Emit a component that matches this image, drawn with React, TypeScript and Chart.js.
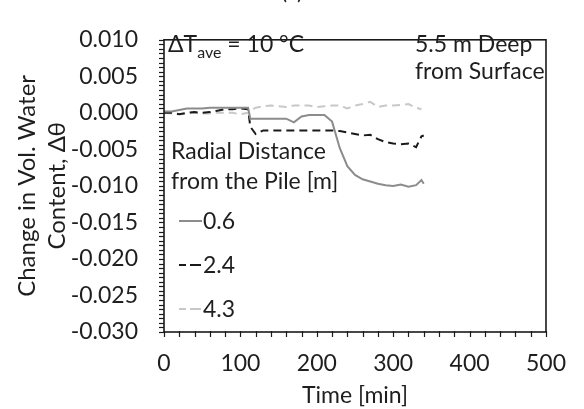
import React, { useEffect, useRef } from 'react';
import { Chart, registerables } from 'chart.js';

Chart.register(...registerables);

// Time [min]
const times = [0, 10, 20, 30, 40, 50, 60, 70, 80, 90, 100, 110, 113, 120, 130, 140, 150, 160, 170, 180, 190, 200, 210, 220, 230, 240, 250, 260, 270, 280, 290, 300, 310, 320, 330, 337, 340];

// Change in volumetric water content, radial distance 0.6 m
const s06 = [0.0002, 0.0002, 0.0004, 0.0006, 0.0006, 0.0006, 0.0007, 0.0007, 0.0007, 0.0007, 0.0007, 0.0007, -0.0008, -0.0008, -0.0008, -0.0008, -0.0008, -0.0008, -0.0013, -0.0005, -0.0003, -0.0003, -0.0003, -0.0012, -0.0048, -0.0073, -0.0085, -0.0091, -0.0094, -0.0097, -0.0099, -0.0100, -0.0098, -0.0101, -0.0099, -0.0092, -0.0097];
// 2.4 m
const s24 = [0.0, 0.0, -0.0002, 0.0, 0.0001, 0.0, 0.0001, 0.0003, 0.0005, 0.0005, 0.0006, 0.0005, -0.0019, -0.0029, -0.0024, -0.0024, -0.0024, -0.0024, -0.0024, -0.0024, -0.0024, -0.0024, -0.0024, -0.0024, -0.0025, -0.0027, -0.0029, -0.0031, -0.0030, -0.0036, -0.0040, -0.0042, -0.0043, -0.0042, -0.0047, -0.0032, -0.0031];
// 4.3 m
const s43 = [0.0, -0.0001, -0.0002, -0.0001, 0.0, -0.0001, -0.0001, 0.0, 0.0, 0.0, -0.0002, 0.0, 0.0003, 0.0007, 0.0009, 0.0010, 0.0009, 0.0008, 0.0010, 0.0010, 0.0010, 0.0008, 0.0009, 0.0010, 0.0010, 0.0006, 0.0010, 0.0012, 0.0015, 0.0008, 0.0010, 0.0010, 0.0011, 0.0012, 0.0007, 0.0005, null];

const seriesLabels = ['0.6', '2.4', '4.3'];
const seriesValues = [s06, s24, s43];

const xMin = 0, xMax = 500, xStep = 100, xMinorStep = 20;
const yMin = -0.03, yMax = 0.01, yStep = 0.005, yMinorStep = 0.000625;

const FONT = 'Lato';
const TEXT = '#1e1e1e';
const FS = 23;

const styles = [
  { color: '#8c8c8c', dash: [] as number[] },
  { color: '#1a1a1a', dash: [8, 5] },
  { color: '#c8c8c8', dash: [8, 5] },
];

const decor = {
  id: 'decor',
  afterDraw(chart: any) {
    const { ctx, chartArea: a, scales } = chart;
    const x = scales.x, y = scales.y;
    ctx.save();
    ctx.strokeStyle = '#1a1a1a';
    ctx.lineWidth = 1.2;
    const nY = Math.round((yMax - yMin) / yMinorStep);
    for (let i = 0; i <= nY; i++) {
      const py = Math.round(y.getPixelForValue(yMin + i * yMinorStep)) + 0.5;
      ctx.beginPath();
      ctx.moveTo(a.left - 5, py);
      ctx.lineTo(a.left, py);
      ctx.stroke();
    }
    for (let t = xMin; t <= xMax; t += xMinorStep) {
      const px = Math.round(x.getPixelForValue(t)) + 0.5;
      ctx.beginPath();
      ctx.moveTo(px, a.bottom - 1);
      ctx.lineTo(px, a.bottom + 5);
      ctx.stroke();
    }
    ctx.lineWidth = 1.6;
    ctx.strokeRect(a.left, a.top, a.right - a.left, a.bottom - a.top);

    // annotations
    ctx.fillStyle = TEXT;
    ctx.textBaseline = 'alphabetic';
    ctx.textAlign = 'left';
    ctx.font = `${FS}px ${FONT}`;
    let cx = 168;
    ctx.fillText('ΔT', cx, 52);
    cx += ctx.measureText('ΔT').width;
    ctx.font = `16px ${FONT}`;
    ctx.fillText('ave', cx, 58);
    cx += ctx.measureText('ave').width;
    ctx.font = `${FS}px ${FONT}`;
    ctx.fillText(' = 10 °C', cx, 52);

    ctx.fillText('5.5 m Deep', 415, 52);
    ctx.fillText('from Surface', 415, 79);

    ctx.fillText('Radial Distance', 171, 159);
    ctx.fillText('from the Pile [m]', 171, 189);

    // legend
    const ys = [221, 265, 309];
    chart.data.datasets.forEach((ds: any, i: number) => {
      const ly = ys[i];
      ctx.save();
      ctx.strokeStyle = ds.borderColor;
      ctx.lineWidth = 2;
      if (ds.borderDash && ds.borderDash.length) {
        ctx.beginPath(); ctx.moveTo(179, ly); ctx.lineTo(186, ly); ctx.stroke();
        ctx.beginPath(); ctx.moveTo(190, ly); ctx.lineTo(201, ly); ctx.stroke();
      } else {
        ctx.beginPath(); ctx.moveTo(179, ly); ctx.lineTo(202, ly); ctx.stroke();
      }
      ctx.restore();
      ctx.fillStyle = TEXT;
      ctx.font = `${FS}px ${FONT}`;
      ctx.fillText(ds.label, 203, ly + 8);
    });

    // clipped panel caption
    ctx.font = `${FS}px ${FONT}`;
    ctx.textAlign = 'center';
    ctx.fillText('(c)', 292, -1);
    ctx.restore();
  },
};

export default function App() {
  const ref = useRef<HTMLCanvasElement | null>(null);
  useEffect(() => {
    if (!ref.current) return;
    const chart = new Chart(ref.current, {
      type: 'line',
      data: {
        datasets: seriesValues.map((vals, i) => ({
          label: seriesLabels[i],
          data: times.map((t, j) => ({ x: t, y: vals[j] })),
          borderColor: styles[i].color,
          borderDash: styles[i].dash,
          borderWidth: 2,
          pointRadius: 0,
          tension: 0,
          fill: false,
          spanGaps: false,
        })),
      },
      options: {
        animation: false,
        responsive: true,
        maintainAspectRatio: false,
        layout: { padding: { top: 24, right: 27, left: 0, bottom: 0 } },
        plugins: { legend: { display: false }, tooltip: { enabled: false } },
        scales: {
          x: {
            type: 'linear',
            min: xMin,
            max: xMax,
            grid: { display: false, drawTicks: false },
            border: { display: false },
            ticks: { stepSize: xStep, color: TEXT, font: { family: FONT, size: FS }, padding: 18, maxRotation: 0 },
            title: { display: true, text: 'Time [min]', color: TEXT, font: { family: FONT, size: FS }, padding: { top: 0, bottom: 0 } },
            afterFit: (s: any) => { s.height = 77; },
          },
          y: {
            min: yMin,
            max: yMax,
            grid: { display: false, drawTicks: false },
            border: { display: false },
            ticks: { stepSize: yStep, color: TEXT, font: { family: FONT, size: FS }, padding: 26, callback: (v: any) => Number(v).toFixed(3) },
            title: { display: true, text: ['Change in Vol. Water', 'Content, Δθ'], color: TEXT, font: { family: FONT, size: 24, lineHeight: 1.25 }, padding: { top: 12, bottom: 0 } },
            afterFit: (s: any) => { s.width = 164; },
          },
        },
      },
      plugins: [decor],
    });
    return () => chart.destroy();
  }, []);
  return (
    <div style={{ position: 'fixed', left: 0, top: 0, width: 584, height: 409, background: '#fff' }}>
      <canvas ref={ref} />
    </div>
  );
}
